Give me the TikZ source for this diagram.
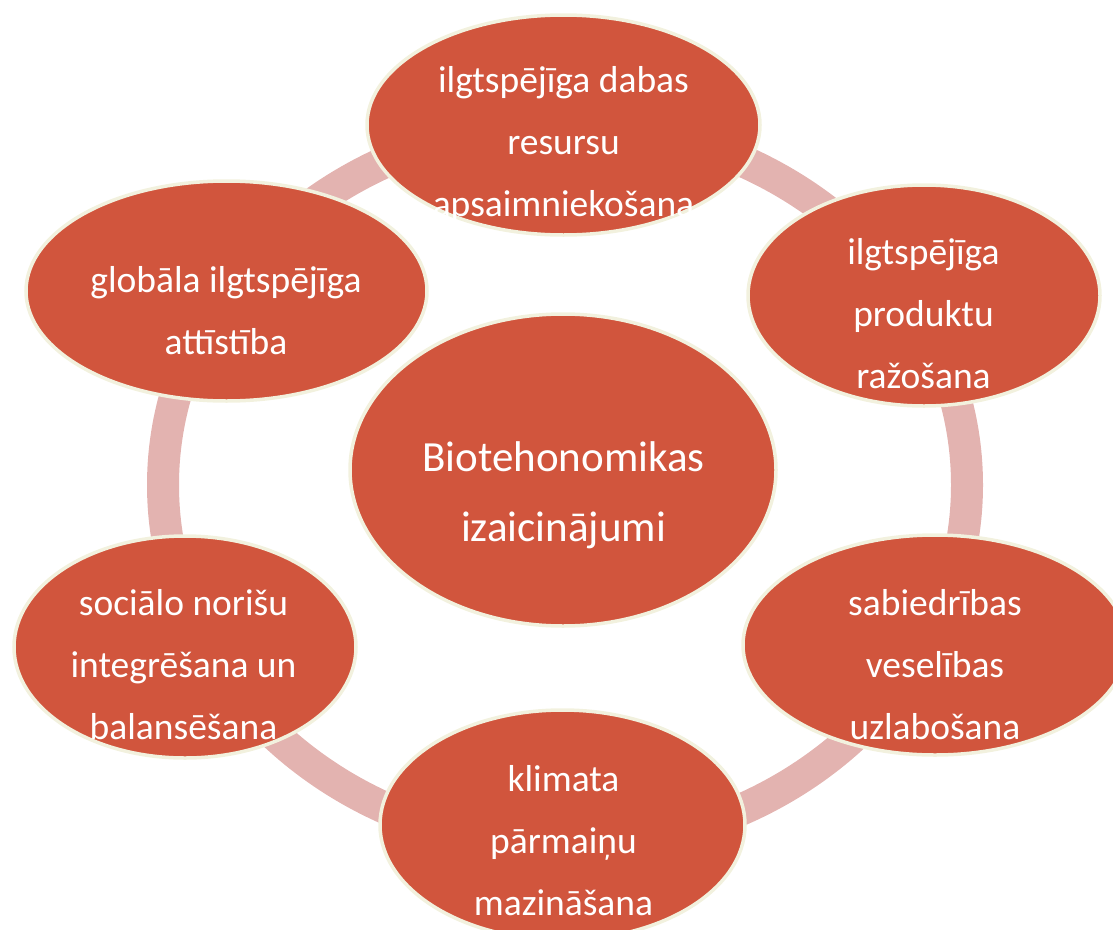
\documentclass[tikz,border=0pt]{standalone}
\usepackage{fontspec}
\setmainfont{Carlito}
\usetikzlibrary{shapes.geometric}
\definecolor{fillred}{HTML}{D1553D}
\definecolor{rim}{HTML}{F2F1DE}
\definecolor{ringc}{HTML}{E3B3B0}
\tikzset{
  bub/.style={ellipse, fill=fillred, draw=rim, line width=3.5pt, inner sep=0pt},
  lbl/.style={text=white, align=center, font=\fontsize{37.5}{62}\selectfont, inner sep=0pt},
  clbl/.style={text=white, align=center, font=\fontsize{43}{70}\selectfont, inner sep=0pt},
}
\newcommand\ls{\rule[-10pt]{0pt}{38pt}}
\newcommand\lc{\rule[-12pt]{0pt}{44pt}}
\begin{document}
\begin{tikzpicture}[x=1pt,y=-1pt]
\useasboundingbox (0,0) rectangle (1113,929);
\draw[ringc, line width=32pt] (565,485) ellipse [x radius=402, y radius=361];
% outer bubbles
\node[bub, minimum width=393pt, minimum height=220pt] (top) at (563.5,125) {};
\node[bub, minimum width=352pt, minimum height=221pt] (ur) at (924,295.5) {};
\node[bub, minimum width=384pt, minimum height=220pt] (lr) at (935,645) {};
\node[bub, minimum width=365pt, minimum height=230pt] (bot) at (562.5,825) {};
\node[bub, minimum width=342pt, minimum height=222pt] (ll) at (185,647) {};
\node[bub, minimum width=401pt, minimum height=220pt] (ul) at (226.5,291) {};
% centre
\node[bub, minimum width=426pt, minimum height=312pt] (ctr) at (563,470) {};
% texts
\node[lbl] (top-t) at (563.5,145.5) {\ls ilgtspējīga dabas\\\ls resursu\\\ls apsaimniekošana};
\node[lbl] (ur-t) at (923.5,317) {\ls ilgtspējīga\\\ls produktu\\\ls ražošana};
\node[lbl] (lr-t) at (935,668.5) {\ls sabiedrības\\\ls veselības\\\ls uzlabošana};
\node[lbl] (bot-t) at (563.5,844) {\ls klimata\\\ls pārmaiņu\\\ls mazināšana};
\node[lbl] (ll-t) at (183.5,668.5) {\ls sociālo norišu\\\ls integrēšana un\\\ls balansēšana};
\node[lbl] (ul-t) at (226,314) {\ls globāla ilgtspējīga\\\ls attīstība};
\node[clbl] (ctr-t) at (563.5,496.5) {\lc Biotehonomikas\\\lc izaicinājumi};
\end{tikzpicture}
\end{document}
